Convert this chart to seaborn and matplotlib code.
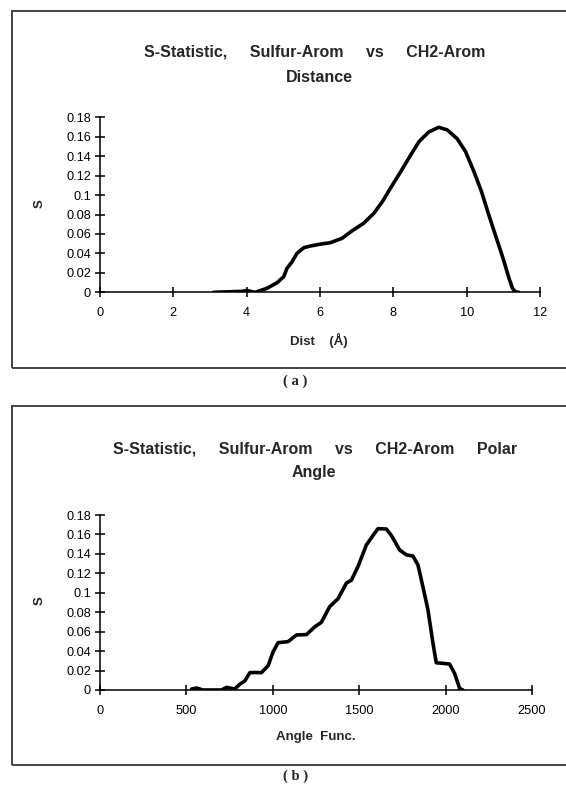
import numpy as np
import pandas as pd
import matplotlib
matplotlib.use("Agg")
import matplotlib.pyplot as plt
from matplotlib.patches import Rectangle
from matplotlib.ticker import FuncFormatter
import seaborn as sns

# panel (a): S vs distance
dist = [3.1, 3.9, 4.0, 4.1, 4.23, 4.55, 4.83, 5.01, 5.1, 5.24, 5.37, 5.56, 5.74,
        6.0, 6.28, 6.6, 6.88, 7.19, 7.47, 7.7, 7.92, 8.2, 8.47, 8.7, 8.97, 9.24,
        9.47, 9.74, 9.97, 10.2, 10.4, 10.6, 10.8, 11.0, 11.15, 11.25, 11.33, 11.42]
s_dist = [0.0, 0.001, 0.002, 0.001, 0.0, 0.004, 0.0099, 0.016, 0.0247, 0.0315,
          0.040, 0.0459, 0.0476, 0.0495, 0.051, 0.0555, 0.0634, 0.071, 0.0813,
          0.0932, 0.107, 0.124, 0.141, 0.155, 0.165, 0.1697, 0.167, 0.158,
          0.1447, 0.124, 0.104, 0.080, 0.057, 0.034, 0.015, 0.004, 0.0005, 0.0]

# panel (b): S vs angle function
angle = [530, 560, 595, 703, 732, 761, 780, 809, 838, 867, 896, 934, 973, 1002,
         1031, 1088, 1137, 1195, 1243, 1281, 1329, 1378, 1426, 1455, 1493, 1541,
         1580, 1609, 1657, 1686, 1734, 1773, 1811, 1840, 1869, 1898, 1927, 1946,
         1985, 2023, 2052, 2081, 2100]
s_angle = [0.001, 0.002, 0.0, 0.0, 0.0027, 0.0017, 0.001, 0.006, 0.0093, 0.0178,
           0.018, 0.0178, 0.025, 0.0394, 0.0487, 0.0497, 0.0566, 0.057, 0.065,
           0.0696, 0.0857, 0.094, 0.110, 0.113, 0.127, 0.149, 0.159, 0.166,
           0.1656, 0.159, 0.144, 0.139, 0.1378, 0.1286, 0.106, 0.0823, 0.048,
           0.028, 0.0274, 0.0267, 0.0171, 0.0017, 0.0]

y_ticks = [0, 0.02, 0.04, 0.06, 0.08, 0.1, 0.12, 0.14, 0.16, 0.18]

sns.set_style("white")
plt.rcParams['font.family'] = ['Liberation Sans', 'DejaVu Sans']

W, H = 566, 785
fig = plt.figure(figsize=(W / 100, H / 100), dpi=100)


def fx(px):
    return px / W


def fy(py):
    return 1 - py / H


def style_axes(ax, xticks):
    sns.despine(ax=ax)
    for side in ['left', 'bottom']:
        ax.spines[side].set_linewidth(1.1)
        ax.spines[side].set_color('black')
    ax.set_ylim(0, 0.18)
    ax.set_yticks(y_ticks)
    ax.set_xticks(xticks)
    ax.yaxis.set_major_formatter(FuncFormatter(lambda v, p: '%g' % round(v, 2)))
    ax.tick_params(axis='both', direction='inout', length=7, width=1.1,
                   labelsize=9.2, colors='black', left=True, bottom=True)
    ax.tick_params(axis='x', pad=7)
    ax.tick_params(axis='y', pad=3)
    ax.set_xlabel('')
    ax.set_ylabel('')
    ax.patch.set_alpha(0)


df_a = pd.DataFrame({'Dist': dist, 'S': s_dist})
df_b = pd.DataFrame({'Angle': angle, 'S': s_angle})

# frames
fig.add_artist(Rectangle((fx(12), fy(368)), 1.2, fy(11) - fy(368),
                         transform=fig.transFigure, fill=False,
                         edgecolor='#444444', linewidth=1.4))
fig.add_artist(Rectangle((fx(12), fy(765)), 1.2, fy(406) - fy(765),
                         transform=fig.transFigure, fill=False,
                         edgecolor='#444444', linewidth=1.4))

# panel (a)
ax1 = fig.add_axes([fx(100), fy(292.3), fx(540 - 100), fy(117.3) - fy(292.3)])
sns.lineplot(data=df_a, x='Dist', y='S', ax=ax1, color='black', linewidth=2.6)
ax1.set_xlim(0, 12)
style_axes(ax1, [0, 2, 4, 6, 8, 10, 12])

# panel (b)
ax2 = fig.add_axes([fx(100), fy(690), fx(532 - 100), fy(515) - fy(690)])
sns.lineplot(data=df_b, x='Angle', y='S', ax=ax2, color='black', linewidth=2.6)
ax2.set_xlim(0, 2500)
style_axes(ax2, [0, 500, 1000, 1500, 2000, 2500])

title_kw = dict(ha='center', va='center', fontsize=11.5, fontweight='bold')
fig.text(fx(315), fy(52), 'S-Statistic,     Sulfur-Arom     vs     CH2-Arom', **title_kw)
fig.text(fx(319), fy(77), 'Distance', **title_kw)
fig.text(fx(315), fy(449), 'S-Statistic,     Sulfur-Arom     vs     CH2-Arom     Polar', **title_kw)
fig.text(fx(314), fy(473), 'Angle', **title_kw)

lab_kw = dict(ha='center', va='center', fontsize=9.5, fontweight='bold')
fig.text(fx(319), fy(340), 'Dist    (Å)', **lab_kw)
fig.text(fx(316), fy(737), 'Angle  Func.', **lab_kw)
fig.text(fx(40), fy(204), 'S', rotation=90, **lab_kw)
fig.text(fx(40), fy(601), 'S', rotation=90, **lab_kw)

cap_kw = dict(ha='center', va='center', fontsize=10.5, fontweight='bold',
              family=['Liberation Serif', 'DejaVu Serif'])
fig.text(fx(295), fy(381), '( a )', **cap_kw)
fig.text(fx(296), fy(776), '( b )', **cap_kw)

fig.savefig('out.png', dpi=100)
